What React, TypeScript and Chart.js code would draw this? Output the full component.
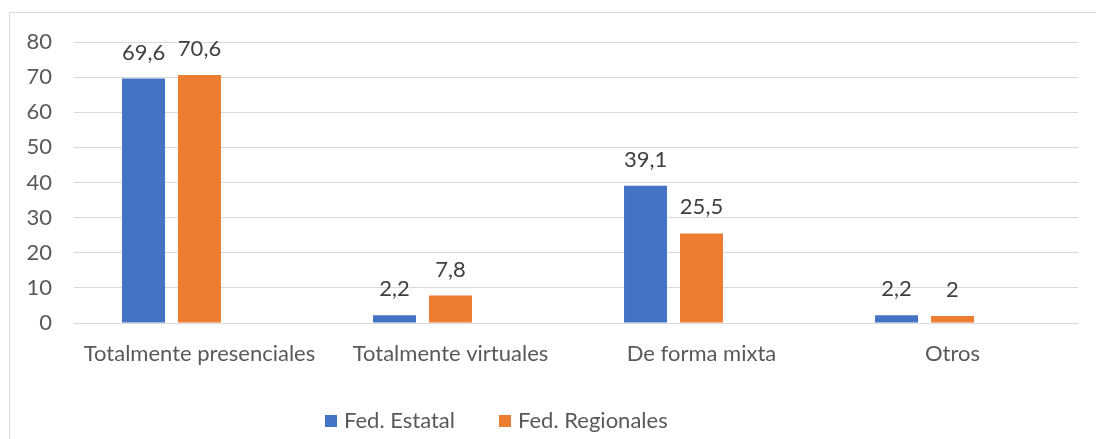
import React, { useEffect, useRef } from "react";
import { Chart, registerables } from "chart.js";

Chart.register(...registerables);

const categories = ["Totalmente presenciales", "Totalmente virtuales", "De forma mixta", "Otros"];
const fedEstatal = [69.6, 2.2, 39.1, 2.2];
const fedRegionales = [70.6, 7.8, 25.5, 2];
const emptySeries = [null, null, null, null];
const yTicks = [0, 10, 20, 30, 40, 50, 60, 70, 80];

const FONT = "Lato, 'Open Sans', sans-serif";
const FSIZE = 22;

const fmt = (v: number) => String(v).replace(".", ",");

const labelPlugin = {
  id: "barLabels",
  afterDatasetsDraw(chart: any) {
    const ctx = chart.ctx;
    ctx.save();
    ctx.font = `${FSIZE}px ${FONT}`;
    ctx.fillStyle = "#404040";
    ctx.textAlign = "center";
    ctx.textBaseline = "alphabetic";
    chart.data.datasets.forEach((ds: any, i: number) => {
      if (ds.label === "_empty") return;
      const meta = chart.getDatasetMeta(i);
      meta.data.forEach((bar: any, j: number) => {
        const v = ds.data[j];
        if (v === null || v === undefined) return;
        ctx.fillText(fmt(v), bar.x, bar.y - 19);
      });
    });
    ctx.restore();
  },
};

const legendPlugin = {
  id: "customLegend",
  afterDraw(chart: any) {
    const ctx = chart.ctx;
    ctx.save();
    ctx.font = `${FSIZE}px ${FONT}`;
    ctx.textBaseline = "middle";
    ctx.textAlign = "left";
    let x = 325;
    const yc = 421;
    chart.data.datasets.forEach((ds: any) => {
      if (ds.label === "_empty") return;
      ctx.fillStyle = ds.backgroundColor;
      ctx.fillRect(x, yc - 6, 12, 12);
      x += 12 + 7;
      ctx.fillStyle = "#595959";
      ctx.fillText(ds.label, x, yc);
      x += ctx.measureText(ds.label).width + 44;
    });
    ctx.restore();
  },
};

export default function App() {
  const ref = useRef<HTMLCanvasElement>(null);
  useEffect(() => {
    if (!ref.current) return;
    const chart = new Chart(ref.current, {
      type: "bar",
      data: {
        labels: categories,
        datasets: [
          { label: "Fed. Estatal", data: fedEstatal, backgroundColor: "#4472C4" },
          { label: "Fed. Regionales", data: fedRegionales, backgroundColor: "#ED7D31" },
          { label: "_empty", data: emptySeries as any, backgroundColor: "#A5A5A5" },
        ],
      },
      options: {
        responsive: false,
        animation: false,
        datasets: {
          bar: { categoryPercentage: 0.669, barPercentage: 0.768 },
        } as any,
        layout: { padding: { left: 0, right: 18, top: 42, bottom: 64 } },
        plugins: {
          legend: { display: false },
          tooltip: { enabled: false },
        },
        scales: {
          x: {
            grid: { display: false, drawTicks: false },
            border: { display: false },
            ticks: { color: "#595959", font: { family: FONT, size: FSIZE }, padding: 18, maxRotation: 0 },
            afterFit: (s: any) => { s.height = 52; },
          },
          y: {
            min: 0,
            max: 80,
            afterBuildTicks: (s: any) => { s.ticks = yTicks.map((v) => ({ value: v })); },
            grid: { color: "#D9D9D9", lineWidth: 1, drawTicks: false },
            border: { display: false },
            ticks: { color: "#595959", font: { family: FONT, size: FSIZE }, padding: 22 },
            afterFit: (s: any) => { s.width = 74; },
          },
        },
      },
      plugins: [labelPlugin, legendPlugin],
    });
    return () => chart.destroy();
  }, []);

  return (
    <div style={{ position: "fixed", left: 0, top: 0, width: 1096, height: 439, background: "#fff", overflow: "hidden" }}>
      <div style={{ position: "absolute", left: 9, top: 12, width: 1200, height: 600, border: "1px solid #D9D9D9", boxSizing: "border-box" }} />
      <canvas ref={ref} width={1096} height={439} style={{ position: "absolute", left: 0, top: 0, width: 1096, height: 439 }} />
    </div>
  );
}
